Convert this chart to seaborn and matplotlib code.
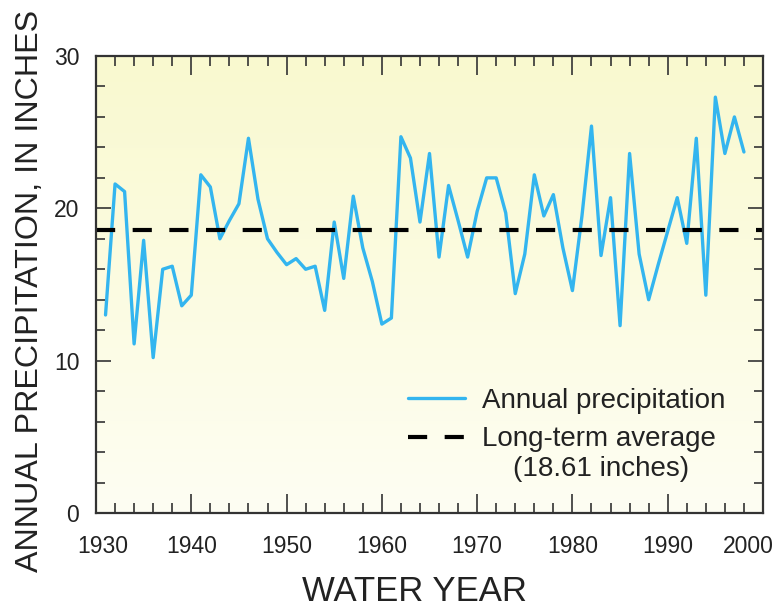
import numpy as np
import pandas as pd
import matplotlib
matplotlib.use("Agg")
import matplotlib.pyplot as plt
import matplotlib.transforms as mtransforms
from matplotlib.colors import LinearSegmentedColormap
from matplotlib.lines import Line2D
from matplotlib.ticker import MultipleLocator
import seaborn as sns

# ---------------- data ----------------
years = list(range(1931, 1999))
precip = [13.0, 21.6, 21.1, 11.1, 17.9, 10.2, 16.0, 16.2, 13.6, 14.3,
          22.2, 21.4, 18.0, 19.2, 20.3, 24.6, 20.6, 18.0, 17.1, 16.3,
          16.7, 16.0, 16.2, 13.3, 19.1, 15.4, 20.8, 17.4, 15.2, 12.4,
          12.8, 24.7, 23.3, 19.1, 23.6, 16.8, 21.5, 19.2, 16.8, 19.8,
          22.0, 22.0, 19.7, 14.4, 17.0, 22.2, 19.5, 20.9, 17.4, 14.6,
          19.5, 25.4, 16.9, 20.7, 12.3, 23.6, 17.0, 14.0, 16.3, 18.5,
          20.7, 17.7, 24.6, 14.3, 27.3, 23.6, 26.0, 23.7]
long_term_avg = 18.61
x_ticks = [1930, 1940, 1950, 1960, 1970, 1980, 1990, 2000]
y_ticks = [0, 10, 20, 30]
label_series = "Annual precipitation"
label_avg = "Long-term average"
label_avg_note = "(18.61 inches)"
x_title = "WATER YEAR"
y_title = "ANNUAL PRECIPITATION, IN INCHES"

df = pd.DataFrame({"year": years, "precip": precip})

# ---------------- style ----------------
sns.set_theme(style="ticks")
plt.rcParams["font.family"] = ["Liberation Sans", "DejaVu Sans"]
text_color = "#222222"
blue = "#33b5ef"

W, H = 782, 610
fig = plt.figure(figsize=(W / 100, H / 100), dpi=100)
ax = fig.add_axes([96 / W, 97 / H, 667 / W, 457 / H])

# background gradient (pale yellow at top fading to near white)
cmap = LinearSegmentedColormap.from_list("bg", ["#fefef3", "#f9f9cf"])
grad = np.linspace(0, 1, 256).reshape(-1, 1)
ax.imshow(grad, extent=[0, 1, 0, 1], transform=ax.transAxes, origin="lower",
          cmap=cmap, aspect="auto", zorder=0, interpolation="bilinear")

sns.lineplot(data=df, x="year", y="precip", ax=ax, color=blue, lw=2.4,
             zorder=3, legend=False)
ax.axhline(long_term_avg, color="black", lw=3.0, dashes=(4.6, 4.2), zorder=4)

ax.set_xlim(1930, 2000)
ax.set_ylim(0, 30)
ax.set_aspect("auto")

ax.set_xticks(x_ticks)
ax.set_xticklabels([str(v) for v in x_ticks])
ax.set_yticks(y_ticks)
ax.set_yticklabels([str(v) for v in y_ticks])
ax.xaxis.set_minor_locator(MultipleLocator(2))
ax.yaxis.set_minor_locator(MultipleLocator(2))

ax.tick_params(axis="both", which="both", direction="in", top=True, right=True,
               colors="#333333", labelcolor=text_color, labelsize=16.5)
ax.tick_params(axis="x", which="major", length=14, width=1.2, pad=16)
ax.tick_params(axis="x", which="minor", length=7.5, width=1.2)
ax.tick_params(axis="y", which="major", length=11, width=1.2, pad=12)
ax.tick_params(axis="y", which="minor", length=6.5, width=1.2)

for sp in ax.spines.values():
    sp.set_color("#333333")
    sp.set_linewidth(1.6)
    sp.set_zorder(5)

# nudge the end tick labels inward like the original
labs = ax.get_xticklabels()
labs[0].set_transform(labs[0].get_transform() +
                      mtransforms.ScaledTranslation(7 / 100, 0, fig.dpi_scale_trans))
labs[-1].set_transform(labs[-1].get_transform() +
                       mtransforms.ScaledTranslation(-15 / 100, 0, fig.dpi_scale_trans))

ax.set_xlabel(x_title, fontsize=25, color=text_color)
ax.set_ylabel(y_title, fontsize=23.2, color=text_color)
ax.xaxis.set_label_coords(0.477, -0.135)
ax.yaxis.set_label_coords(-0.077, 0.485)

handles = [Line2D([], [], color=blue, lw=2.4),
           Line2D([], [], color="black", lw=3.0, dashes=(4.6, 4.2))]
leg = ax.legend(handles, [label_series, label_avg], loc="upper left",
                bbox_to_anchor=(408 / W, (H - 388) / H), bbox_transform=fig.transFigure,
                frameon=False, fontsize=20, handlelength=2.05, handletextpad=0.62,
                borderpad=0, borderaxespad=0, labelspacing=0.45)
for t in leg.get_texts():
    t.set_color(text_color)

ax.text(601 / W, (H - 469) / H, label_avg_note, transform=fig.transFigure,
        fontsize=20, color=text_color, ha="center", va="center")

fig.savefig("out.png", dpi=100)
